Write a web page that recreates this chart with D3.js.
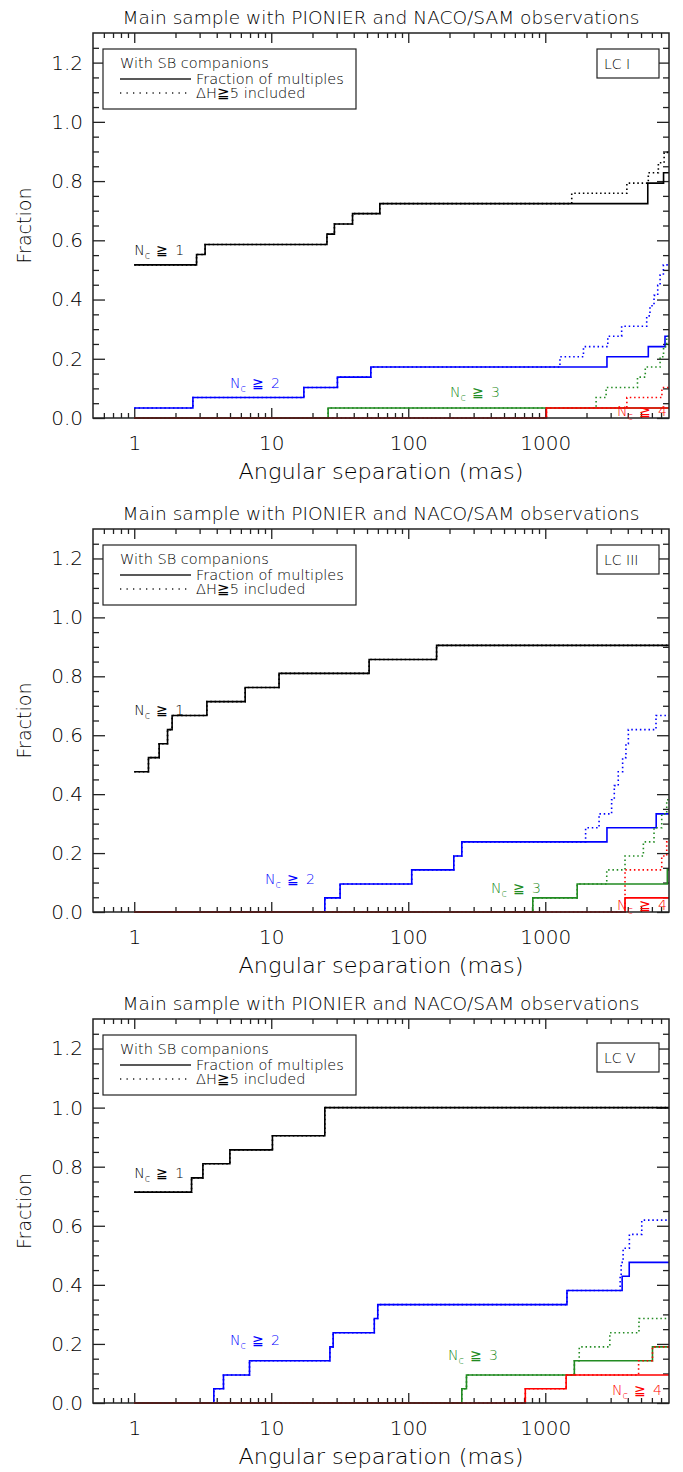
<!DOCTYPE html>
<html><head><meta charset="utf-8">
<script src="https://cdn.jsdelivr.net/npm/d3@7"></script>
<style>
body{margin:0;background:#fff;}
svg text{font-family:"DejaVu Sans",sans-serif;font-weight:200;}
</style></head><body>
<svg id="c" width="683" height="1472"></svg>
<script>
// ---------- data (separation in mas, cumulative fraction) ----------
const titleText = "Main sample with PIONIER and NACO/SAM observations";
const xLabelText = "Angular separation (mas)";
const yLabelText = "Fraction";
const panelNames = ["LC I", "LC III", "LC V"];
const seriesNames = ["1", "2", "3", "4"];           // N_c >= k
const xMajorTicks = [1, 10, 100, 1000];
const xMinorTicks = [0.6,0.7,0.8,0.9,2,3,4,5,6,7,8,9,20,30,40,50,60,70,80,90,200,300,400,500,600,700,800,900,2000,3000,4000,5000,6000,7000];
const yMajorTicks = [0, 0.2, 0.4, 0.6, 0.8, 1.0, 1.2];
const yMinorTicks = [0.05,0.1,0.15,0.25,0.3,0.35,0.45,0.5,0.55,0.65,0.7,0.75,0.85,0.9,0.95,1.05,1.1,1.15,1.25];
const legendLines = ["With SB companions", "Fraction of multiples", "\u0394H\u22675 included"];

// LC I
const lc1_ge1_solid  = [[1,0.517],[2.85,0.552],[3.29,0.586],[25.5,0.621],[28.9,0.655],[39.2,0.690],[62,0.724],[5600,0.793],[7300,0.828]];
const lc1_ge1_dotted = [[1,0.517],[2.85,0.552],[3.29,0.586],[25.5,0.621],[28.9,0.655],[39.2,0.690],[62,0.724],[1560,0.759],[3940,0.793],[5650,0.828],[6690,0.862],[7370,0.897]];
const lc1_ge2_solid  = [[1,0.034],[2.68,0.069],[17.3,0.103],[30.4,0.138],[53.3,0.172],[2820,0.207],[5650,0.241],[7480,0.276]];
const lc1_ge2_dotted = [[1,0.034],[2.68,0.069],[17.3,0.103],[30.4,0.138],[53.3,0.172],[1280,0.207],[1900,0.241],[2860,0.276],[3610,0.310],[5500,0.345],[5810,0.379],[6220,0.414],[6620,0.448],[6890,0.483],[7280,0.517]];
const lc1_ge3_solid  = [[1,0],[26,0.034]];
const lc1_ge3_dotted = [[1,0],[26,0.034],[2350,0.069],[2780,0.103],[4710,0.138],[5370,0.172],[6890,0.207],[7300,0.241],[7700,0.276]];
const lc1_ge4_solid  = [[1,0],[1020,0.034]];
const lc1_ge4_dotted = [[1,0],[1020,0.034],[3940,0.069],[7100,0.103]];

// LC III
const lc3_ge1_solid  = [[1,0.476],[1.27,0.524],[1.52,0.571],[1.75,0.619],[1.89,0.667],[3.39,0.714],[6.45,0.762],[11.4,0.810],[51.8,0.857],[161,0.905]];
const lc3_ge1_dotted = [[1,0.476],[1.27,0.524],[1.52,0.571],[1.75,0.619],[1.89,0.667],[3.39,0.714],[6.45,0.762],[11.4,0.810],[51.8,0.857],[161,0.905]];
const lc3_ge2_solid  = [[1,0],[24.6,0.048],[31.8,0.095],[106,0.143],[215,0.190],[246,0.238],[2820,0.286],[6450,0.333]];
const lc3_ge2_dotted = [[1,0],[24.6,0.048],[31.8,0.095],[106,0.143],[215,0.190],[246,0.238],[1970,0.286],[2470,0.333],[3050,0.381],[3190,0.429],[3410,0.476],[3670,0.524],[3880,0.571],[4040,0.619],[6430,0.667]];
const lc3_ge3_solid  = [[1,0],[811,0.048],[1710,0.095],[7780,0.143]];
const lc3_ge3_dotted = [[1,0],[811,0.048],[1710,0.095],[2810,0.143],[3820,0.190],[5200,0.238],[6220,0.286],[7080,0.333],[7700,0.381]];
const lc3_ge4_solid  = [[1,0],[3820,0.048]];
const lc3_ge4_dotted = [[1,0],[3820,0.143],[7080,0.190],[7700,0.238]];

// LC V
const lc5_ge1_solid  = [[1,0.714],[2.62,0.762],[3.17,0.810],[4.99,0.857],[10.2,0.905],[24.6,1.0]];
const lc5_ge1_dotted = [[1,0.714],[2.62,0.762],[3.17,0.810],[4.99,0.857],[10.2,0.905],[24.6,1.0]];
const lc5_ge2_solid  = [[1,0],[3.81,0.048],[4.48,0.095],[6.94,0.143],[26.8,0.190],[28.3,0.238],[56.5,0.286],[59.9,0.333],[1440,0.381],[3640,0.429],[4100,0.476]];
const lc5_ge2_dotted = [[1,0],[3.81,0.048],[4.48,0.095],[6.94,0.143],[26.8,0.190],[28.3,0.238],[56.5,0.286],[59.9,0.333],[1440,0.381],[3520,0.429],[3580,0.476],[3700,0.524],[4110,0.571],[5060,0.619]];
const lc5_ge3_solid  = [[1,0],[246,0.048],[266,0.095],[1630,0.143],[6060,0.190]];
const lc5_ge3_dotted = [[1,0],[246,0.048],[266,0.095],[1630,0.143],[1770,0.190],[2960,0.238],[4830,0.286]];
const lc5_ge4_solid  = [[1,0],[715,0.048],[1420,0.095]];
const lc5_ge4_dotted = [[1,0],[715,0.048],[1420,0.095],[4800,0.143],[6060,0.190]];

// ---------- drawing ----------
const seriesColors = ["#000000", "#0000ff", "#228b22", "#ff0000"];
const ink = "#222";
const textInk = "#000";
const svg = d3.select("#c");

const panels = [
  {top: 33,  bottom: 418, name: panelNames[0],
   series: [[lc1_ge1_solid, lc1_ge1_dotted],[lc1_ge2_solid, lc1_ge2_dotted],[lc1_ge3_solid, lc1_ge3_dotted],[lc1_ge4_solid, lc1_ge4_dotted]],
   labels: [[1,0.568],[5.0,0.118],[202,0.088],[3340,0.024]], lcShift: 0},
  {top: 529, bottom: 912, name: panelNames[1],
   series: [[lc3_ge1_solid, lc3_ge1_dotted],[lc3_ge2_solid, lc3_ge2_dotted],[lc3_ge3_solid, lc3_ge3_dotted],[lc3_ge4_solid, lc3_ge4_dotted]],
   labels: [[1,0.687],[9.0,0.112],[402,0.082],[3340,0.024]], lcShift: 0},
  {top: 1019, bottom: 1403, name: panelNames[2],
   series: [[lc5_ge1_solid, lc5_ge1_dotted],[lc5_ge2_solid, lc5_ge2_dotted],[lc5_ge3_solid, lc5_ge3_dotted],[lc5_ge4_solid, lc5_ge4_dotted]],
   labels: [[1,0.78],[5.0,0.214],[195,0.163],[3070,0.044]], lcShift: 8}
];

const left = 93, right = 669;

panels.forEach(p => {
  const g = svg.append("g");
  const x = d3.scaleLog().domain([0.5, 8000]).range([left, right]);
  const y = d3.scaleLinear().domain([0, 1.3]).range([p.bottom, p.top]);
  const xMax = x.domain()[1];

  // title
  g.append("text").attr("x", (left+right)/2).attr("y", p.top - 9)
    .attr("text-anchor","middle").attr("font-size",17).attr("fill",textInk)
    .attr("textLength",517).attr("lengthAdjust","spacingAndGlyphs").text(titleText);

  // axes
  function styleAxis(sel){ sel.select(".domain").remove(); sel.selectAll("line").attr("stroke",ink).attr("stroke-width",1.3); }
  g.append("g").attr("transform",`translate(0,${p.bottom})`)
    .call(d3.axisBottom(x).tickValues(xMajorTicks).tickSize(-10).tickPadding(18).tickFormat(d3.format("d")))
    .call(styleAxis)
    .call(s => s.selectAll("text").attr("font-size",20).attr("fill",textInk).attr("font-family","DejaVu Sans"));
  g.append("g").attr("transform",`translate(0,${p.bottom})`)
    .call(d3.axisBottom(x).tickValues(xMinorTicks).tickSize(-5).tickFormat(""))
    .call(styleAxis);
  g.append("g").attr("transform",`translate(0,${p.top})`)
    .call(d3.axisTop(x).tickValues(xMajorTicks).tickSize(-10).tickFormat(""))
    .call(styleAxis);
  g.append("g").attr("transform",`translate(0,${p.top})`)
    .call(d3.axisTop(x).tickValues(xMinorTicks).tickSize(-5).tickFormat(""))
    .call(styleAxis);
  g.append("g").attr("transform",`translate(${left},0)`)
    .call(d3.axisLeft(y).tickValues(yMajorTicks).tickSize(-12).tickPadding(10).tickFormat(d3.format(".1f")))
    .call(styleAxis)
    .call(s => s.selectAll("text").attr("font-size",20).attr("fill",textInk).attr("font-family","DejaVu Sans"));
  g.append("g").attr("transform",`translate(${left},0)`)
    .call(d3.axisLeft(y).tickValues(yMinorTicks).tickSize(-6).tickFormat(""))
    .call(styleAxis);
  g.append("g").attr("transform",`translate(${right},0)`)
    .call(d3.axisRight(y).tickValues(yMajorTicks).tickSize(-12).tickFormat(""))
    .call(styleAxis);
  g.append("g").attr("transform",`translate(${right},0)`)
    .call(d3.axisRight(y).tickValues(yMinorTicks).tickSize(-6).tickFormat(""))
    .call(styleAxis);

  // series
  const line = d3.line().x(d => x(d[0])).y(d => y(d[1])).curve(d3.curveStepAfter);
  p.series.forEach((pair, i) => {
    const [solid, dotted] = pair;
    g.append("path").datum(solid.concat([[xMax, solid[solid.length-1][1]]]))
      .attr("d", line).attr("fill","none").attr("stroke",seriesColors[i]).attr("stroke-width",1.6);
    g.append("path").datum(dotted.concat([[xMax, dotted[dotted.length-1][1]]]))
      .attr("d", line).attr("fill","none").attr("stroke",seriesColors[i]).attr("stroke-width",1.6)
      .attr("stroke-dasharray","1.5,2.8");
  });

  // frame
  g.append("rect").attr("x",left).attr("y",p.top).attr("width",right-left).attr("height",p.bottom-p.top)
    .attr("fill","none").attr("stroke",ink).attr("stroke-width",1.5);

  // N_c labels
  p.labels.forEach((pos, i) => {
    const t = g.append("text").attr("x", x(pos[0])).attr("y", y(pos[1]) + 5)
      .attr("fill", seriesColors[i]).attr("font-size",14);
    t.append("tspan").text("N");
    t.append("tspan").attr("font-size",10).attr("dy",4).text("c");
    t.append("tspan").attr("dy",-4).attr("dx",6).text("\u2267");
    t.append("tspan").attr("dx",7).text(seriesNames[i]);
  });

  // legend
  const lt = p.top + 16;
  g.append("rect").attr("x",103).attr("y",lt).attr("width",253).attr("height",60)
    .attr("fill","#fff").attr("stroke",ink).attr("stroke-width",1.2);
  g.append("text").attr("x",120).attr("y",lt+19).attr("font-size",14.5).attr("fill",textInk).text(legendLines[0]);
  g.append("text").attr("x",196).attr("y",lt+35).attr("font-size",14.5).attr("fill",textInk).text(legendLines[1]);
  g.append("text").attr("x",196).attr("y",lt+49).attr("font-size",14.5).attr("fill",textInk).text(legendLines[2]);
  g.append("line").attr("x1",120).attr("x2",191).attr("y1",lt+30).attr("y2",lt+30).attr("stroke",ink).attr("stroke-width",1.3);
  g.append("line").attr("x1",120).attr("x2",191).attr("y1",lt+44).attr("y2",lt+44).attr("stroke",ink).attr("stroke-width",1.3).attr("stroke-dasharray","1.3,5.2");

  // LC box
  const lcTop = p.top + 16 + p.lcShift;
  g.append("rect").attr("x",597).attr("y",lcTop).attr("width",62).attr("height",29)
    .attr("fill","#fff").attr("stroke",ink).attr("stroke-width",1.2);
  g.append("text").attr("x",604).attr("y",lcTop+20).attr("font-size",14).attr("fill",textInk).text(p.name);

  // axis titles
  g.append("text").attr("x",(left+right)/2).attr("y",p.bottom+61).attr("text-anchor","middle")
    .attr("font-size",22).attr("fill",textInk).attr("textLength",285).attr("lengthAdjust","spacingAndGlyphs").text(xLabelText);
  g.append("text").attr("transform",`translate(31,${(p.top+p.bottom)/2}) rotate(-90)`).attr("text-anchor","middle")
    .attr("font-size",20).attr("fill",textInk).attr("textLength",76).attr("lengthAdjust","spacingAndGlyphs").text(yLabelText);
});
</script>
</body></html>
